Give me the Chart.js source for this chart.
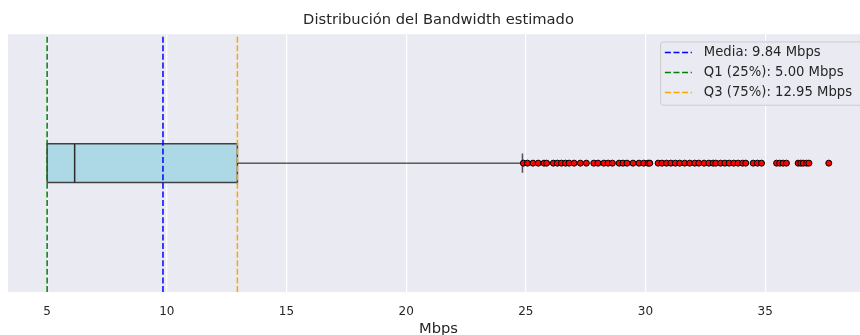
<!DOCTYPE html>
<html>
<head>
<meta charset="utf-8">
<script src="https://cdn.jsdelivr.net/npm/chart.js@4.4.1/dist/chart.umd.min.js"></script>
<style>
  html, body { margin: 0; padding: 0; background: #ffffff; overflow: hidden; width: 860px; height: 335px; }
  #wrap { position: relative; width: 880px; height: 345px; }
</style>
</head>
<body>
<div id="wrap"><canvas id="c"></canvas></div>
<script>
// Reference statistics shown as dashed vertical lines
const statNames  = ['Media', 'Q1 (25%)', 'Q3 (75%)'];
const statValues = [9.84, 5.00, 12.95];
const statColors = ['#0000ff', '#008000', '#ffa500'];

// Five-number summary of the bandwidth sample (Mbps)
const boxQ1     = 5.00;
const boxMedian = 6.15;
const boxQ3     = 12.95;
const whiskerHi = 24.86;

// Points beyond the upper whisker (Mbps)
const outliers = [
  24.90, 25.07, 25.30, 25.52, 25.76, 25.87, 26.15, 26.32, 26.49, 26.66, 26.81,
  27.02, 27.28, 27.53, 27.84, 28.02, 28.26, 28.44, 28.62, 28.90, 29.06,
  29.23, 29.48, 29.73, 29.93, 30.11, 30.18, 30.53, 30.69, 30.88, 31.06,
  31.25, 31.43, 31.64, 31.85, 32.06, 32.23, 32.45, 32.65, 32.83, 32.94,
  33.14, 33.32, 33.50, 33.69, 33.87, 34.06, 34.19, 34.50, 34.68, 34.85,
  35.48, 35.61, 35.75, 35.89, 36.38, 36.49, 36.59, 36.73, 36.83, 37.66
];

// Axis ticks and range
const tickValues = [5, 10, 15, 20, 25, 30, 35];
const xRange = [3.365, 39.34];

const FONT = '"DejaVu Sans", sans-serif';
const TEXT = '#262626';
const HALF = 0.075;          // half height of the box in y units
const DASH = [6, 2.6];

const line = (points, color, width, extra = {}) => Object.assign({
  type: 'line',
  data: points.map(([x, y]) => ({ x, y })),
  borderColor: color,
  borderWidth: width,
  pointRadius: 0,
  tension: 0,
  fill: false
}, extra);

const datasets = [
  // box body
  line([[boxQ1, HALF], [boxQ3, HALF]], 'rgba(0,0,0,0)', 0,
       { fill: { value: -HALF }, backgroundColor: '#add8e6', order: 20 }),
  // box outline
  line([[boxQ1, -HALF], [boxQ3, -HALF], [boxQ3, HALF], [boxQ1, HALF], [boxQ1, -HALF]],
       '#404040', 1.5, { order: 19 }),
  // median
  line([[boxMedian, -HALF], [boxMedian, HALF]], '#2b2b2b', 1.5, { order: 18 }),
  // upper whisker and cap
  line([[boxQ3, 0], [whiskerHi, 0]], '#111111', 1, { order: 17 }),
  line([[whiskerHi, -HALF / 2], [whiskerHi, HALF / 2]], '#505050', 1.5, { order: 16 }),
  // outliers
  {
    type: 'scatter',
    data: outliers.map(v => ({ x: v, y: 0 })),
    pointRadius: 3,
    pointBackgroundColor: '#ff0000',
    pointBorderColor: '#000000',
    pointBorderWidth: 1,
    order: 15
  }
];

// dashed reference lines, listed in the inset legend
statNames.forEach((name, i) => {
  datasets.push(line([[statValues[i], -0.5], [statValues[i], 0.5]], statColors[i], 1.5, {
    label: name + ': ' + statValues[i].toFixed(2) + ' Mbps',
    borderDash: DASH,
    legendEntry: true,
    order: 3 - i
  }));
});

const plotBackground = {
  id: 'plotBackground',
  beforeDraw(chart) {
    const { ctx, chartArea: a } = chart;
    ctx.save();
    ctx.fillStyle = '#eaeaf2';
    ctx.fillRect(a.left, a.top, a.width, a.height);
    ctx.restore();
  }
};

const insetLegend = {
  id: 'insetLegend',
  afterDatasetsDraw(chart) {
    const { ctx, chartArea: a } = chart;
    const items = chart.data.datasets.filter(d => d.legendEntry);
    ctx.save();
    ctx.font = '13.2px ' + FONT;
    const maxW = Math.max(...items.map(d => ctx.measureText(d.label).width));
    const right = a.right - 7;
    const top = a.top + 7.7;
    const rowH = 20;
    const textX = right - 10 - maxW;
    const left = textX - 12 - 27 - 4.3;
    const height = 10.6 + rowH * (items.length - 1) + 12.7;
    const r = 3;

    ctx.beginPath();
    ctx.moveTo(left + r, top);
    ctx.arcTo(right, top, right, top + height, r);
    ctx.arcTo(right, top + height, left, top + height, r);
    ctx.arcTo(left, top + height, left, top, r);
    ctx.arcTo(left, top, right, top, r);
    ctx.closePath();
    ctx.fillStyle = 'rgba(234,234,242,0.8)';
    ctx.fill();
    ctx.lineWidth = 1;
    ctx.strokeStyle = '#cccccc';
    ctx.stroke();

    items.forEach((d, i) => {
      const y = top + 10.6 + i * rowH;
      ctx.beginPath();
      ctx.setLineDash(d.borderDash);
      ctx.lineWidth = 1.5;
      ctx.strokeStyle = d.borderColor;
      ctx.moveTo(left + 4.3, y);
      ctx.lineTo(left + 31.3, y);
      ctx.stroke();
      ctx.setLineDash([]);
      ctx.fillStyle = TEXT;
      ctx.textBaseline = 'middle';
      ctx.textAlign = 'left';
      ctx.fillText(d.label, textX, y);
    });
    ctx.restore();
  }
};

new Chart(document.getElementById('c'), {
  type: 'scatter',
  data: { datasets },
  options: {
    responsive: true,
    maintainAspectRatio: false,
    animation: false,
    events: [],
    layout: { padding: { left: 8, right: 11, top: 0, bottom: 0 } },
    plugins: {
      legend: { display: false },
      tooltip: { enabled: false },
      title: {
        display: true,
        text: 'Distribución del Bandwidth estimado',
        color: TEXT,
        font: { family: FONT, size: 14.7, weight: 'normal' },
        padding: { top: 11, bottom: 5.6 }
      }
    },
    scales: {
      x: {
        type: 'linear',
        min: xRange[0],
        max: xRange[1],
        afterBuildTicks: s => { s.ticks = tickValues.map(v => ({ value: v })); },
        grid: { color: '#ffffff', lineWidth: 1.2, drawTicks: false },
        border: { display: false },
        ticks: { color: TEXT, font: { family: FONT, size: 12 }, padding: 12.3 },
        title: {
          display: true,
          text: 'Mbps',
          color: TEXT,
          font: { family: FONT, size: 14.7 },
          padding: { top: -10.7, bottom: 7 }
        }
      },
      y: { type: 'linear', min: -0.5, max: 0.5, display: false }
    }
  },
  plugins: [plotBackground, insetLegend]
});
</script>
</body>
</html>
